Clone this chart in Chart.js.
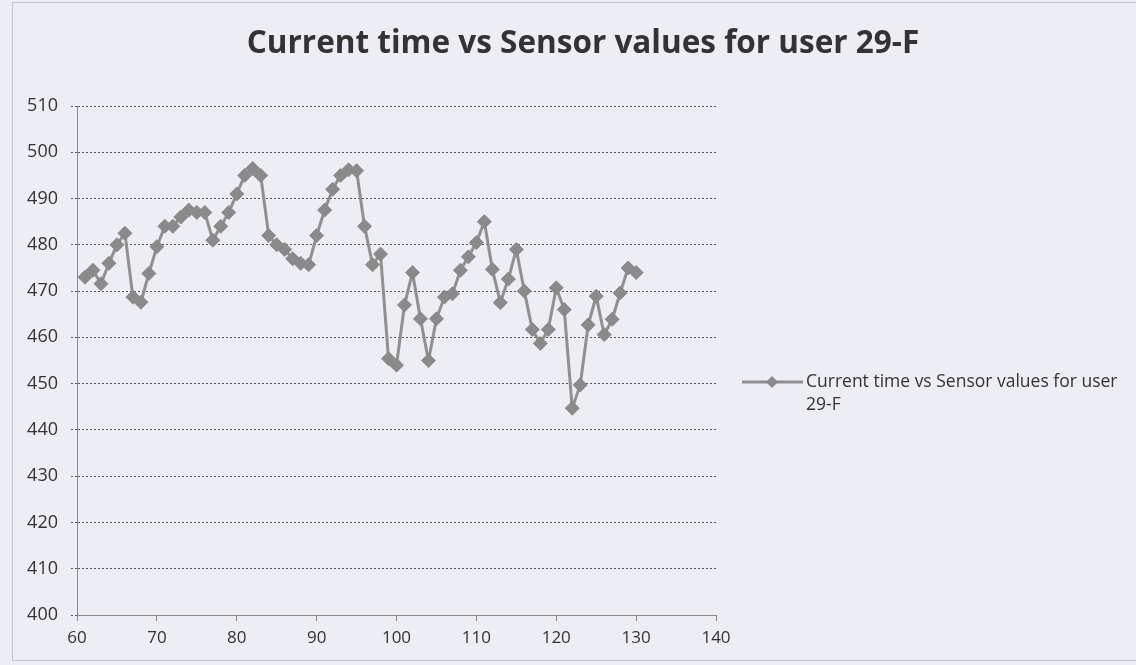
<!DOCTYPE html>
<html>
<head>
<meta charset="utf-8">
<script src="https://cdn.jsdelivr.net/npm/chart.js@4.4.0/dist/chart.umd.min.js"></script>
<style>
  html, body { margin: 0; padding: 0; background: #eceef4; }
  #wrap { width: 1136px; height: 665px; }
</style>
</head>
<body>
<div id="wrap"><canvas id="myChart" width="1136" height="665"></canvas></div>
<script>
const chartTitle = 'Current time vs Sensor values for user 29-F';
const seriesName = ['Current time vs Sensor values for user', '29-F'];

const currentTime = [
  61, 62, 63, 64, 65, 66, 67, 68, 69, 70,
  71, 72, 73, 74, 75, 76, 77, 78, 79, 80,
  81, 82, 83, 84, 85, 86, 87, 88, 89, 90,
  91, 92, 93, 94, 95, 96, 97, 98, 99, 100,
  101, 102, 103, 104, 105, 106, 107, 108, 109, 110,
  111, 112, 113, 114, 115, 116, 117, 118, 119, 120,
  121, 122, 123, 124, 125, 126, 127, 128, 129, 130
];
const sensorValues = [
  473, 474.5, 471.6, 476, 480, 482.5, 468.7, 467.6, 473.8, 479.6,
  484, 484, 486, 487.5, 487, 487, 481, 484, 487, 491,
  495, 496.5, 495, 482, 480, 479, 477, 476, 475.7, 482,
  487.5, 492, 495, 496.2, 496, 484, 475.7, 478, 455.4, 454,
  467, 474, 464, 455, 464, 468.7, 469.4, 474.5, 477.4, 480.5,
  485, 474.7, 467.5, 472.6, 479, 470, 461.7, 458.7, 461.7, 470.7,
  466, 444.7, 449.7, 462.7, 468.9, 460.6, 463.9, 469.6, 475, 474
];

const xTicks = [60, 70, 80, 90, 100, 110, 120, 130, 140];
const yTicks = [400, 410, 420, 430, 440, 450, 460, 470, 480, 490, 500, 510];

const points = currentTime.map((t, i) => ({ x: t, y: sensorValues[i] }));

// background, dotted frame and the centred title
const frame = {
  id: 'frame',
  beforeDraw(chart) {
    const c = chart.ctx;
    c.save();
    c.fillStyle = '#eceef4';
    c.fillRect(0, 0, chart.width, chart.height);
    c.strokeStyle = '#9a9a9a';
    c.setLineDash([1, 1]);
    c.lineWidth = 1;
    c.strokeRect(12.5, 2.5, 1140, 658);
    c.setLineDash([]);
    c.fillStyle = '#333';
    c.font = 'bold 31.5px "Open Sans", sans-serif';
    c.textAlign = 'center';
    c.textBaseline = 'middle';
    c.fillText(chartTitle, 583, 44);
    c.restore();
  }
};

const sideLegend = {
  id: 'sideLegend',
  afterDraw(chart) {
    const c = chart.ctx;
    const y = 382;
    c.save();
    c.strokeStyle = '#909090';
    c.lineWidth = 3;
    c.beginPath();
    c.moveTo(742, y);
    c.lineTo(803, y);
    c.stroke();
    c.fillStyle = '#8a8a8a';
    c.beginPath();
    c.moveTo(772, y - 6);
    c.lineTo(778, y);
    c.lineTo(772, y + 6);
    c.lineTo(766, y);
    c.closePath();
    c.fill();
    c.fillStyle = '#333';
    c.font = '17.5px "Open Sans", sans-serif';
    c.textBaseline = 'middle';
    c.fillText(seriesName[0], 806, y);
    c.fillText(seriesName[1], 806, y + 23);
    c.restore();
  }
};

new Chart(document.getElementById('myChart'), {
  type: 'scatter',
  data: {
    datasets: [{
      label: seriesName.join(' '),
      data: points,
      showLine: true,
      borderColor: '#909090',
      borderWidth: 3,
      pointStyle: 'rectRot',
      pointRadius: 7,
      pointBackgroundColor: '#8a8a8a',
      pointBorderColor: '#8a8a8a',
      pointBorderWidth: 1,
      tension: 0
    }]
  },
  options: {
    responsive: false,
    animation: false,
    layout: { padding: { left: 0, right: 420, top: 106, bottom: 0 } },
    plugins: {
      legend: { display: false },
      tooltip: { enabled: false },
      title: { display: false }
    },
    scales: {
      x: {
        type: 'linear',
        min: 60,
        max: 140,
        afterBuildTicks(scale) { scale.ticks = xTicks.map(v => ({ value: v })); },
        afterFit(scale) { scale.height = 50; },
        grid: { drawOnChartArea: false, drawTicks: true, tickLength: 6, color: '#888' },
        border: { color: '#888', width: 1 },
        ticks: { color: '#333', font: { family: '"Open Sans", sans-serif', size: 17 }, padding: 7 }
      },
      y: {
        min: 400,
        max: 510,
        afterBuildTicks(scale) { scale.ticks = yTicks.map(v => ({ value: v })); },
        afterFit(scale) { scale.width = 77; },
        grid: { color: '#555', tickLength: 6, tickBorderDash: [2, 2] },
        border: { color: '#888', width: 1, dash: [2, 2] },
        ticks: { color: '#333', font: { family: '"Open Sans", sans-serif', size: 18 }, padding: 13 }
      }
    }
  },
  plugins: [frame, sideLegend]
});
</script>
</body>
</html>
